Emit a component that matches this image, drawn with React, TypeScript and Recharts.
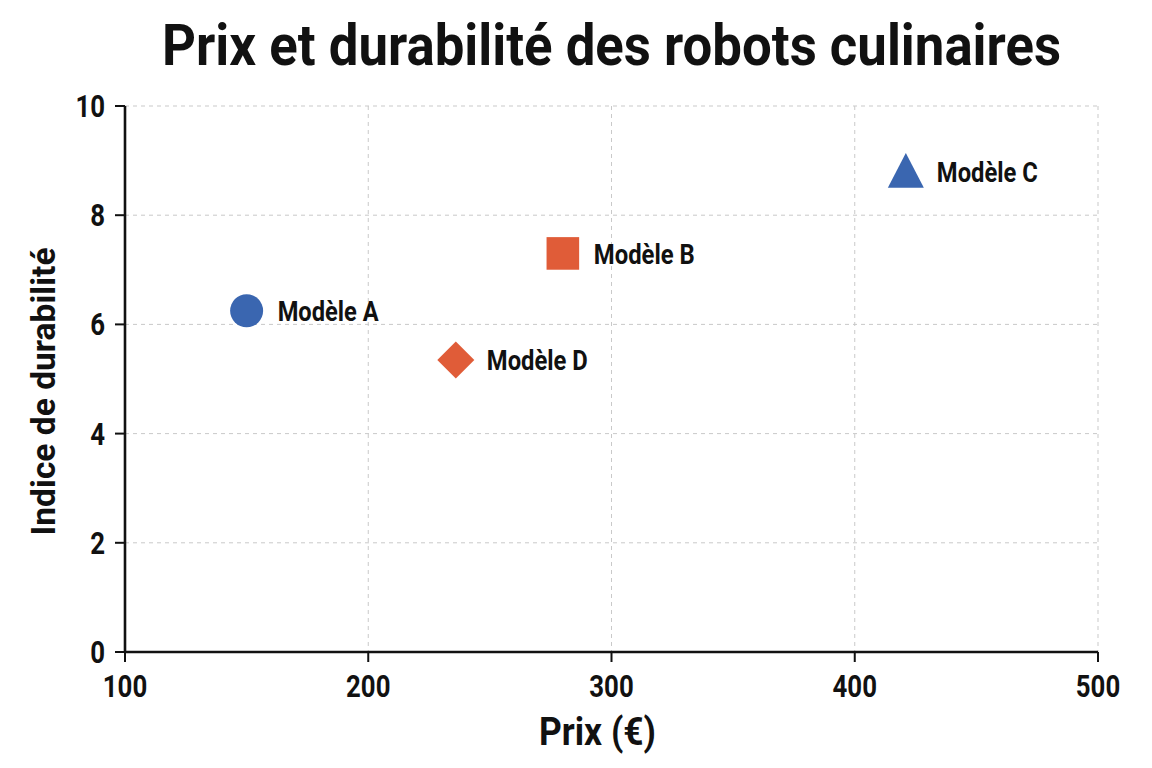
import React from 'react';
import { ScatterChart, Scatter, XAxis, YAxis, CartesianGrid } from 'recharts';

const MODEL_NAMES = ['Modèle A', 'Modèle B', 'Modèle C', 'Modèle D'];
const PRICES = [150, 280, 421, 236];
const DURABILITY = [6.25, 7.3, 8.8, 5.35];
const X_TICKS = [100, 200, 300, 400, 500];
const Y_TICKS = [0, 2, 4, 6, 8, 10];

const TITLE = 'Prix et durabilité des robots culinaires';
const X_LABEL = 'Prix (€)';
const Y_LABEL = 'Indice de durabilité';

const SHAPES = ['circle', 'square', 'triangle', 'diamond'];
const COLORS = ['#3A66B0', '#E05C38', '#3A66B0', '#E05C38'];

const FONT = "Roboto, 'Liberation Sans', sans-serif";
const INK = '#111111';

const makeShape = (kind: string, color: string) => (props: any) => {
  const { cx, cy, payload } = props;
  let mark: React.ReactNode = null;
  if (kind === 'circle') mark = <circle cx={cx} cy={cy} r={16.5} fill={color} />;
  else if (kind === 'square') mark = <rect x={cx - 16.3} y={cy - 16.3} width={32.6} height={32.6} fill={color} />;
  else if (kind === 'triangle')
    mark = <polygon points={`${cx},${cy - 18.5} ${cx + 18},${cy + 16.3} ${cx - 18},${cy + 16.3}`} fill={color} />;
  else
    mark = <polygon points={`${cx},${cy - 18.5} ${cx + 18.5},${cy} ${cx},${cy + 18.5} ${cx - 18.5},${cy}`} fill={color} />;
  return (
    <g>
      {mark}
      <text
        x={cx + 31}
        y={cy + 10.5}
        fill={INK}
        fontSize={27}
        fontWeight={700}
        fontFamily={FONT}
        textLength={101}
        lengthAdjust="spacingAndGlyphs"
      >
        {payload.name}
      </text>
    </g>
  );
};

const XTick = (props: any) => {
  const { x, payload } = props;
  const s = String(payload.value);
  return (
    <text
      x={x}
      y={689}
      textAnchor="middle"
      fill={INK}
      fontSize={31}
      fontWeight={700}
      fontFamily={FONT}
      textLength={s.length * 14.8}
      lengthAdjust="spacingAndGlyphs"
    >
      {s}
    </text>
  );
};

const YTick = (props: any) => {
  const { y, payload } = props;
  const s = String(payload.value);
  return (
    <text
      x={97}
      y={y + 11}
      textAnchor="end"
      fill={INK}
      fontSize={31}
      fontWeight={700}
      fontFamily={FONT}
      textLength={s.length * 14.8}
      lengthAdjust="spacingAndGlyphs"
    >
      {s}
    </text>
  );
};

export default function App() {
  const series = MODEL_NAMES.map((name, i) => ({
    name,
    data: [{ name, price: PRICES[i], durability: DURABILITY[i] }],
    shape: makeShape(SHAPES[i], COLORS[i]),
  }));
  return (
    <div style={{ position: 'relative', width: 1144, height: 752 }}>
      <svg width={1144} height={90} style={{ position: 'absolute', left: 0, top: 0 }}>
        <text
          x={603.5}
          y={57}
          textAnchor="middle"
          fontSize={58}
          fontWeight={700}
          fontFamily={FONT}
          fill={INK}
          textLength={899}
          lengthAdjust="spacingAndGlyphs"
        >
          {TITLE}
        </text>
      </svg>
      <ScatterChart width={1144} height={752} margin={{ top: 98, right: 54, bottom: 0, left: 0 }}>
        <CartesianGrid stroke="#c9c9c9" strokeDasharray="4 4" />
        <XAxis
          type="number"
          dataKey="price"
          domain={[100, 500]}
          ticks={X_TICKS}
          height={108}
          tickSize={10}
          axisLine={{ stroke: INK, strokeWidth: 2.6 }}
          tickLine={{ stroke: INK, strokeWidth: 2 }}
          tick={<XTick />}
          label={{
            content: (p: any) => {
              const vb = p.viewBox;
              return (
                <text
                  x={vb.x + vb.width / 2 - 14}
                  y={vb.y + 93}
                  textAnchor="middle"
                  fill={INK}
                  fontSize={39}
                  fontWeight={700}
                  fontFamily={FONT}
                  textLength={117}
                  lengthAdjust="spacingAndGlyphs"
                >
                  {X_LABEL}
                </text>
              );
            },
          }}
        />
        <YAxis
          type="number"
          dataKey="durability"
          domain={[0, 10]}
          ticks={Y_TICKS}
          width={117}
          tickSize={10}
          axisLine={{ stroke: INK, strokeWidth: 2.6 }}
          tickLine={{ stroke: INK, strokeWidth: 2 }}
          tick={<YTick />}
          label={{
            content: (p: any) => {
              const vb = p.viewBox;
              const x = vb.x + 47;
              const y = vb.y + vb.height / 2 + 12.5;
              return (
                <text
                  x={x}
                  y={y}
                  transform={`rotate(-90 ${x} ${y})`}
                  textAnchor="middle"
                  fill={INK}
                  fontSize={34}
                  fontWeight={700}
                  fontFamily={FONT}
                  textLength={288}
                  lengthAdjust="spacingAndGlyphs"
                >
                  {Y_LABEL}
                </text>
              );
            },
          }}
        />
        {series.map((s) => (
          <Scatter key={s.name} name={s.name} data={s.data} shape={s.shape} isAnimationActive={false} />
        ))}
      </ScatterChart>
    </div>
  );
}
